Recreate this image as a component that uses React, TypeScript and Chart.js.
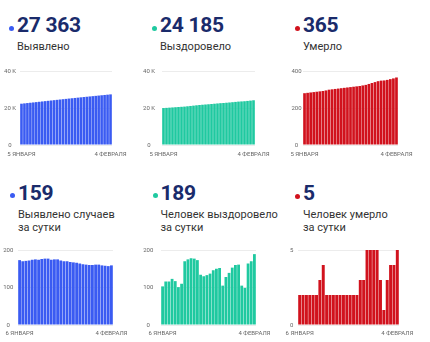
import React, { useEffect, useRef } from "react";
import { Chart, registerables } from "chart.js";

Chart.register(...registerables);
Chart.defaults.font.family = "Roboto, 'Noto Sans', sans-serif";

// ---------- DATA ----------
const datesCumulative = [
  "5 ЯНВАРЯ", "6 ЯНВАРЯ", "7 ЯНВАРЯ", "8 ЯНВАРЯ", "9 ЯНВАРЯ", "10 ЯНВАРЯ", "11 ЯНВАРЯ",
  "12 ЯНВАРЯ", "13 ЯНВАРЯ", "14 ЯНВАРЯ", "15 ЯНВАРЯ", "16 ЯНВАРЯ", "17 ЯНВАРЯ", "18 ЯНВАРЯ",
  "19 ЯНВАРЯ", "20 ЯНВАРЯ", "21 ЯНВАРЯ", "22 ЯНВАРЯ", "23 ЯНВАРЯ", "24 ЯНВАРЯ", "25 ЯНВАРЯ",
  "26 ЯНВАРЯ", "27 ЯНВАРЯ", "28 ЯНВАРЯ", "29 ЯНВАРЯ", "30 ЯНВАРЯ", "31 ЯНВАРЯ",
  "1 ФЕВРАЛЯ", "2 ФЕВРАЛЯ", "3 ФЕВРАЛЯ", "4 ФЕВРАЛЯ",
];
const datesDaily = datesCumulative.slice(1);

const confirmedTotal = [
  22325, 22498, 22668, 22839, 23011, 23185, 23360, 23534, 23710, 23887, 24064,
  24238, 24413, 24588, 24760, 24930, 25100, 25268, 25435, 25601, 25765, 25927,
  26088, 26248, 26408, 26569, 26730, 26889, 27047, 27204, 27363,
];
const recoveredTotal = [
  19971, 20074, 20190, 20306, 20429, 20546, 20647, 20757, 20927, 21102, 21280,
  21457, 21630, 21764, 21894, 22027, 22164, 22310, 22460, 22612, 22717, 22845,
  22984, 23137, 23297, 23458, 23563, 23662, 23826, 23996, 24185,
];
const deathsTotal = [
  280, 282, 284, 286, 288, 290, 292, 295, 299, 301, 303, 305, 307, 309, 311, 313,
  315, 317, 319, 322, 325, 330, 335, 340, 345, 348, 349, 352, 356, 360, 365,
];
const confirmedDaily = [
  173, 170, 171, 172, 174, 175, 174, 176, 177, 177, 174, 175, 175, 172, 170,
  170, 168, 167, 166, 164, 162, 161, 160, 160, 161, 161, 159, 158, 157, 159,
];
const recoveredDaily = [
  103, 116, 116, 123, 117, 101, 110, 170, 175, 178, 177, 173, 134, 130, 133,
  137, 146, 150, 152, 105, 128, 139, 153, 160, 161, 105, 99, 164, 170, 189,
];
const deathsDaily = [
  2, 2, 2, 2, 2, 2, 3, 4, 2, 2, 2, 2, 2, 2, 2,
  2, 2, 2, 3, 3, 5, 5, 5, 5, 3, 1, 3, 4, 4, 5,
];

const thousandsTicks = ["0", "20 K", "40 K"];
const deathsTotalTicks = ["0", "200", "400"];
const dailyTicks = ["0", "100", "200"];
const deathsDailyTicks = ["0", "5"];

const headlineValues = ["27 363", "24 185", "365", "159", "189", "5"];
const headlineTitles = [
  "Выявлено",
  "Выздоровело",
  "Умерло",
  "Выявлено случаев\nза сутки",
  "Человек выздоровело\nза сутки",
  "Человек умерло\nза сутки",
];

// ---------- STYLE ----------
const BLUE = "#3a5bf2";
const TEAL = "#1fc9a0";
const RED = "#d1121d";
const NAVY = "#1a2b6b";

type Area = { l: number; t: number; r: number; b: number };
type Spec = {
  values: number[];
  labels: string[];
  color: string;
  max: number;
  step: number;
  yTicks: string[];
  area: Area;
  col: number;
  yPad: number;
  xPad: number;
};

function MiniBar({ spec }: { spec: Spec }) {
  const ref = useRef<HTMLCanvasElement | null>(null);
  const padTop = 8;
  const padRight = 22;
  const padBottom = 2;
  const xH = 18;
  const canvasLeft = spec.col;
  const canvasTop = spec.area.t - padTop;
  const w = spec.area.r + padRight - canvasLeft;
  const h = spec.area.b + xH + padBottom - canvasTop;

  useEffect(() => {
    if (!ref.current) return;
    const n = spec.labels.length;
    const chart = new Chart(ref.current, {
      type: "bar",
      data: {
        labels: spec.labels,
        datasets: [
          {
            data: spec.values,
            backgroundColor: spec.color,
            borderWidth: 0,
            barPercentage: 0.88,
            categoryPercentage: 1,
          },
        ],
      },
      options: {
        animation: false,
        responsive: false,
        maintainAspectRatio: false,
        devicePixelRatio: 1,
        layout: { padding: { left: 0, top: padTop, right: padRight, bottom: padBottom } },
        plugins: { legend: { display: false }, tooltip: { enabled: false } },
        scales: {
          x: {
            grid: { display: false, drawTicks: false },
            border: { display: false },
            ticks: {
              autoSkip: false,
              maxRotation: 0,
              minRotation: 0,
              padding: spec.xPad,
              color: "#666",
              font: { size: 6 },
              callback: (_v: any, i: number) =>
                i === 0 || i === n - 1 ? spec.labels[i] : "",
            },
            afterFit: (s: any) => {
              s.height = xH;
              s.paddingLeft = 0;
              s.paddingRight = 0;
            },
          },
          y: {
            min: 0,
            max: spec.max,
            grid: { color: "#ececec", drawTicks: false, lineWidth: 1 },
            border: { display: false },
            ticks: {
              stepSize: spec.step,
              crossAlign: "center",
              padding: spec.yPad,
              color: "#666",
              font: { size: 6 },
              callback: (_v: any, i: number) => spec.yTicks[i],
            },
            afterFit: (s: any) => {
              s.width = spec.area.l - canvasLeft;
              s.paddingTop = 0;
              s.paddingBottom = 0;
            },
          },
        },
      },
    } as any);
    return () => chart.destroy();
  }, []);

  return (
    <canvas
      ref={ref}
      width={w}
      height={h}
      style={{ position: "absolute", left: canvasLeft, top: canvasTop, width: w, height: h }}
    />
  );
}

function Header({
  x,
  top,
  dotY,
  color,
  value,
  title,
}: {
  x: number;
  top: number;
  dotY: number;
  color: string;
  value: string;
  title: string;
}) {
  return (
    <>
      <div
        style={{
          position: "absolute",
          left: x - 8,
          top: dotY - 2.5,
          width: 5,
          height: 5,
          borderRadius: "50%",
          background: color,
        }}
      />
      <div
        style={{
          position: "absolute",
          left: x,
          top: top,
          fontFamily: "Roboto",
          fontWeight: 700,
          fontSize: 21,
          lineHeight: "21px",
          color: NAVY,
          whiteSpace: "nowrap",
          letterSpacing: -0.3,
        }}
      >
        {value}
      </div>
      <div
        style={{
          position: "absolute",
          left: x,
          top: top + 24.2,
          fontFamily: "Roboto",
          fontSize: 11,
          lineHeight: "13.5px",
          color: "#333",
          whiteSpace: "pre",
        }}
      >
        {title}
      </div>
    </>
  );
}

export default function App() {
  const specs: Spec[] = [
    { values: confirmedTotal, labels: datesCumulative, color: BLUE, max: 40000, step: 20000, yTicks: thousandsTicks, area: { l: 20, t: 71, r: 112, b: 145 }, col: 0, yPad: 4, xPad: 6 },
    { values: recoveredTotal, labels: datesCumulative, color: TEAL, max: 40000, step: 20000, yTicks: thousandsTicks, area: { l: 162, t: 71, r: 255, b: 145 }, col: 140, yPad: 7, xPad: 6 },
    { values: deathsTotal, labels: datesCumulative, color: RED, max: 400, step: 200, yTicks: deathsTotalTicks, area: { l: 303, t: 71, r: 398, b: 145 }, col: 285, yPad: 1.5, xPad: 6 },
    { values: confirmedDaily, labels: datesDaily, color: BLUE, max: 200, step: 100, yTicks: dailyTicks, area: { l: 18, t: 250, r: 113, b: 325 }, col: 0, yPad: 4.7, xPad: 5 },
    { values: recoveredDaily, labels: datesDaily, color: TEAL, max: 200, step: 100, yTicks: dailyTicks, area: { l: 161, t: 250, r: 256, b: 325 }, col: 140, yPad: 7.7, xPad: 5 },
    { values: deathsDaily, labels: datesDaily, color: RED, max: 5, step: 5, yTicks: deathsDailyTicks, area: { l: 298, t: 250, r: 399, b: 325 }, col: 285, yPad: 4.6, xPad: 5 },
  ];
  const headers = [
    { x: 17, top: 15.3, dotY: 28, color: BLUE },
    { x: 160, top: 15.3, dotY: 28, color: TEAL },
    { x: 303, top: 15.3, dotY: 28, color: RED },
    { x: 18, top: 183.3, dotY: 195, color: BLUE },
    { x: 160.5, top: 183.3, dotY: 195, color: TEAL },
    { x: 303, top: 183.3, dotY: 196, color: RED },
  ];
  return (
    <div
      style={{
        position: "fixed",
        left: 0,
        top: 0,
        width: 430,
        height: 342,
        background: "#fff",
        overflow: "hidden",
      }}
    >
      {headers.map((h, i) => (
        <Header key={"h" + i} {...h} value={headlineValues[i]} title={headlineTitles[i]} />
      ))}
      {specs.map((s, i) => (
        <MiniBar key={"c" + i} spec={s} />
      ))}
    </div>
  );
}
